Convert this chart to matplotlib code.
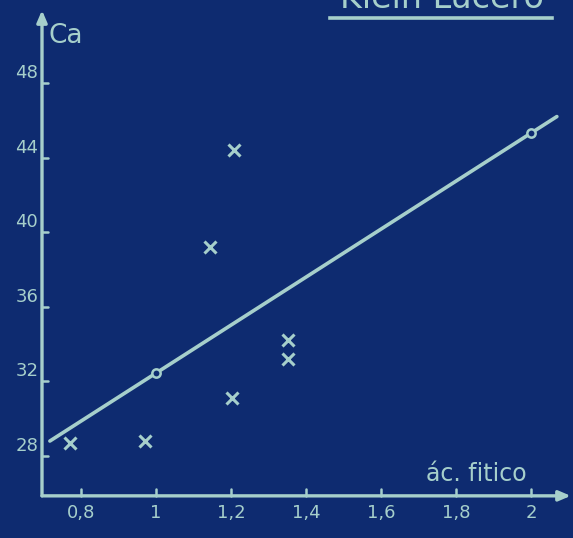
import matplotlib
matplotlib.use("Agg")
import matplotlib.pyplot as plt

# Measured points: phytic acid vs calcium
acid = [0.77, 0.971, 1.203, 1.144, 1.208, 1.352, 1.352]
calcium = [28.7, 28.8, 31.1, 39.2, 44.4, 34.2, 33.2]

# Fitted straight line (ends) and the two marked points on it
fit_x = [0.717, 2.069]
fit_y = [28.8, 46.2]
mark_x = [1.0, 2.0]
mark_y = [32.45, 45.3]

x_ticks = [0.8, 1.0, 1.2, 1.4, 1.6, 1.8, 2.0]
x_labels = ["0,8", "1", "1,2", "1,4", "1,6", "1,8", "2"]
y_ticks = [28, 32, 36, 40, 44, 48]
y_labels = ["28", "32", "36", "40", "44", "48"]

BG = "#0e2b70"
INK = "#a6cfcb"

fig = plt.figure(figsize=(5.73, 5.38), dpi=100, facecolor=BG)
ax = fig.add_axes([0, 0, 1, 1], facecolor=BG)
ax.set_xlim(0.584, 2.112)
ax.set_ylim(23.60, 52.45)
ax.axis("off")

x0, y0 = 0.696, 25.86
# axes with arrow heads
ax.annotate("", xy=(x0, 51.9), xytext=(x0, y0),
            arrowprops=dict(arrowstyle="-|>,head_length=0.7,head_width=0.3",
                            color=INK, lw=2.4, shrinkA=0, shrinkB=0))
ax.annotate("", xy=(2.106, y0), xytext=(x0, y0),
            arrowprops=dict(arrowstyle="-|>,head_length=0.7,head_width=0.3",
                            color=INK, lw=2.4, shrinkA=0, shrinkB=0))

# tick marks and labels
for v, lab in zip(x_ticks, x_labels):
    ax.plot([v, v], [y0, y0 + 0.35], color=INK, lw=1.8, solid_capstyle="round")
    ax.text(v, y0 - 0.9, lab, color=INK, fontsize=13, ha="center", va="center")
for v, lab in zip(y_ticks, y_labels):
    ax.plot([x0, x0 + 0.015], [v, v], color=INK, lw=1.8, solid_capstyle="round")
    ax.text(x0 - 0.01, v + 0.05, lab, color=INK, fontsize=13, ha="right", va="bottom")

# fitted line with its marked points
ax.plot(fit_x, fit_y, color=INK, lw=2.6, solid_capstyle="round")
ax.plot(mark_x, mark_y, "o", ms=6, mfc=BG, mec=INK, mew=1.8)

# measured values
ax.plot(acid, calcium, "x", ms=8, mec=INK, mew=2.2, ls="none")

# axis names
ax.text(0.712, 50.5, "Ca", color=INK, fontsize=19, ha="left", va="center")
ax.text(1.853, 27.05, "ác. fitico", color=INK, fontsize=17, ha="center", va="center")

# author heading, partly cut by the top edge
fig.text(0.771, 1 - 8 / 538, "Klein Lucero", color=INK, fontsize=24,
         ha="center", va="baseline")
fig.lines.append(plt.Line2D([330 / 573, 552 / 573], [1 - 18 / 538, 1 - 18 / 538],
                            transform=fig.transFigure, color=INK, lw=2.6))

fig.savefig("out.png", dpi=100, facecolor=BG)
